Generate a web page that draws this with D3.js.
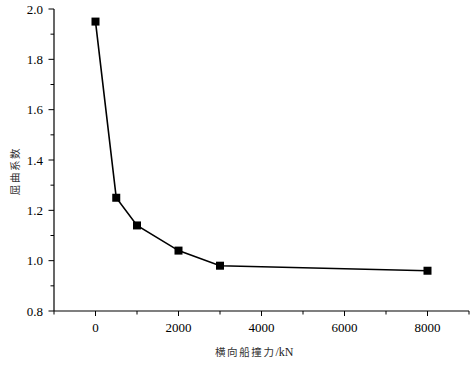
<!DOCTYPE html>
<html><head><meta charset="utf-8">
<script src="https://cdn.jsdelivr.net/npm/d3@7"></script>
<style>body{margin:0;background:#fff}svg{display:block}
.serif{font-family:"Liberation Serif","Times New Roman",Tinos,"DejaVu Serif",serif}
.cjk{font-family:"Noto Sans CJK SC","Noto Sans CJK JP",sans-serif}
</style>
</head><body>
<script>
const forceX = [0, 500, 1000, 2000, 3000, 8000];
const bucklingCoef = [1.95, 1.25, 1.14, 1.04, 0.98, 0.96];
const xTicks = [0, 2000, 4000, 6000, 8000];
const yTicks = [0.8, 1.0, 1.2, 1.4, 1.6, 1.8, 2.0];
const xLabelCn = "横向船撞力";
const xLabelUnit = "/kN";
const yLabel = "屈曲系数";

const W = 473, H = 366;
const svg = d3.select("body").append("svg").attr("width", W).attr("height", H);
const x = d3.scaleLinear().domain([-1000, 9000]).range([54, 469]);
const y = d3.scaleLinear().domain([0.8, 2.0]).range([311, 9]);

// X axis
const gx = svg.append("g").attr("transform", `translate(0,${y(0.8)})`);
gx.append("line").attr("x1", x(-1000)).attr("x2", x(9000)).attr("stroke", "#000").attr("stroke-width", 1.2);
const xMinor = d3.range(-1000, 9001, 1000);
gx.selectAll(".xt").data(xMinor).join("line")
  .attr("x1", d => x(d)).attr("x2", d => x(d)).attr("y1", 0)
  .attr("y2", d => xTicks.includes(d) ? 5 : 3.5).attr("stroke", "#000").attr("stroke-width", 1);
gx.selectAll(".xl").data(xTicks).join("text").attr("class", "serif")
  .attr("x", d => x(d)).attr("y", 21).attr("text-anchor", "middle")
  .attr("font-size", 13).text(d => d);

// Y axis
const gy = svg.append("g").attr("transform", `translate(${x(-1000)},0)`);
gy.append("line").attr("y1", y(0.8)).attr("y2", y(2.0)).attr("stroke", "#000").attr("stroke-width", 1.2);
const yMinor = d3.range(8, 21).map(v => v / 10);
gy.selectAll(".yt").data(yMinor).join("line")
  .attr("y1", d => y(d)).attr("y2", d => y(d)).attr("x1", 0)
  .attr("x2", (d, i) => i % 2 === 0 ? -5.5 : -3.5).attr("stroke", "#000").attr("stroke-width", 1);
gy.selectAll(".yl").data(yTicks).join("text").attr("class", "serif")
  .attr("x", -11).attr("y", d => y(d) + 4.5).attr("text-anchor", "end")
  .attr("font-size", 13).text(d => d.toFixed(1));

// Axis titles
const xt = svg.append("text").attr("x", 215).attr("y", 356).attr("font-size", 10.5).attr("fill", "#333");
xt.append("tspan").attr("class", "cjk").attr("letter-spacing", 1.6).text(xLabelCn);
xt.append("tspan").attr("class", "serif").attr("font-size", 12).attr("fill", "#222").text(xLabelUnit);
svg.append("text").attr("class", "cjk").attr("transform", "translate(19,171) rotate(-90)").attr("text-anchor", "middle")
  .attr("font-size", 10.5).attr("fill", "#333").attr("letter-spacing", 1.6).text(yLabel);

// Line and markers
const pts = forceX.map((d, i) => [d, bucklingCoef[i]]);
svg.append("path").datum(pts)
  .attr("d", d3.line().x(d => x(d[0])).y(d => y(d[1])))
  .attr("fill", "none").attr("stroke", "#000").attr("stroke-width", 1.6);
svg.selectAll(".m").data(pts).join("rect")
  .attr("x", d => x(d[0]) - 4).attr("y", d => y(d[1]) - 4)
  .attr("width", 8).attr("height", 8).attr("fill", "#000");
</script>
</body></html>
